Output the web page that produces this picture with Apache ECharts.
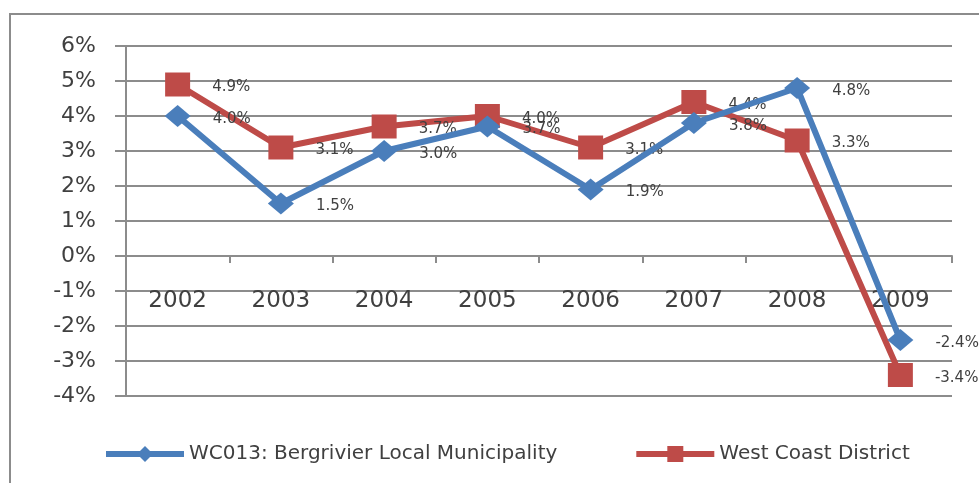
<!DOCTYPE html>
<html lang="en">
<head>
    <meta charset="UTF-8">
    <title>Growth</title>
    <style>
        html, body { margin: 0; padding: 0; background: #fff; }
        #main { width: 979px; height: 483px; }
    </style>
</head>
<body>
    <div id="main"></div>
    <script src="https://cdn.jsdelivr.net/npm/echarts@6/dist/echarts.min.js"></script>
    <script>
        var years = ['2002', '2003', '2004', '2005', '2006', '2007', '2008', '2009'];
        var bergrivier = [4.0, 1.5, 3.0, 3.7, 1.9, 3.8, 4.8, -2.4];
        var westCoast = [4.9, 3.1, 3.7, 4.0, 3.1, 4.4, 3.3, -3.4];
        var yTicks = { min: -4, max: 6, interval: 1 };

        var font = 'DejaVu Sans';
        var textColor = '#404040';
        var gridColor = '#8c8c8c';

        var myChart = echarts.init(document.getElementById('main'));

        function labelCfg() {
            return {
                show: true,
                position: 'right',
                distance: 22,
                offset: [0, 3],
                fontFamily: font,
                fontSize: 15,
                color: textColor,
                formatter: function (p) { return p.value.toFixed(1) + '%'; }
            };
        }

        myChart.setOption({
            animation: false,
            graphic: [{
                type: 'rect',
                shape: { x: 10, y: 14, width: 1100, height: 600 },
                style: { fill: 'none', stroke: '#8c8c8c', lineWidth: 2 },
                silent: true
            }],
            grid: { left: 126, right: 27, top: 46, bottom: 87 },
            legend: {
                bottom: 14,
                left: 98,
                itemWidth: 78,
                itemHeight: 20,
                itemGap: 76,
                lineStyle: { width: 6 },
                textStyle: { fontFamily: font, fontSize: 20, color: textColor },
                data: ['WC013: Bergrivier Local Municipality', 'West Coast District']
            },
            xAxis: {
                type: 'category',
                data: years,
                axisLine: { onZero: true, lineStyle: { color: gridColor, width: 2 } },
                axisTick: { show: true, length: 7, lineStyle: { color: gridColor, width: 2 } },
                axisLabel: { margin: -106, fontFamily: font, fontSize: 23, color: textColor }
            },
            yAxis: {
                type: 'value',
                min: yTicks.min,
                max: yTicks.max,
                interval: yTicks.interval,
                axisLine: { show: true, lineStyle: { color: gridColor, width: 2 } },
                axisTick: { show: true, length: 11, lineStyle: { color: gridColor, width: 2 } },
                splitLine: { lineStyle: { color: gridColor, width: 2 } },
                axisLabel: {
                    margin: 30, fontFamily: font, fontSize: 22, color: textColor,
                    formatter: '{value}%'
                }
            },
            series: [{
                name: 'WC013: Bergrivier Local Municipality',
                type: 'line',
                data: bergrivier,
                symbol: 'diamond',
                symbolSize: [26, 22],
                lineStyle: { color: '#4a7ebb', width: 6 },
                itemStyle: { color: '#4a7ebb' },
                label: labelCfg(),
                z: 3
            }, {
                name: 'West Coast District',
                type: 'line',
                data: westCoast,
                symbol: 'rect',
                symbolSize: [25, 24],
                lineStyle: { color: '#be4b48', width: 6 },
                itemStyle: { color: '#be4b48' },
                label: labelCfg(),
                z: 2
            }]
        });
    </script>
</body>
</html>
